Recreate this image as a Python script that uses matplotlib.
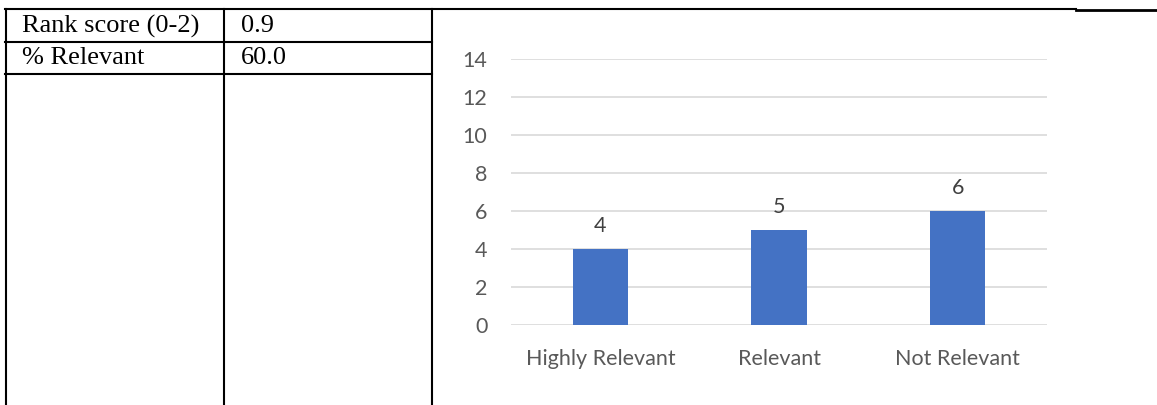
import matplotlib
matplotlib.use("Agg")
import matplotlib.pyplot as plt
from matplotlib.lines import Line2D

# table contents (left part of the picture)
row_labels = ["Rank score (0-2)", "% Relevant"]
row_values = ["0.9", "60.0"]

# chart data
categories = ["Highly Relevant", "Relevant", "Not Relevant"]
counts = [4, 5, 6]
yticks = [0, 2, 4, 6, 8, 10, 12, 14]

W, H = 1157, 405
fig = plt.figure(figsize=(W / 100, H / 100), dpi=100)

def px_line(x0, y0, x1, y1, lw=1.5):
    # figure line given in pixel coords from the top left
    fig.add_artist(Line2D([x0 / W, x1 / W], [1 - y0 / H, 1 - y1 / H],
                          transform=fig.transFigure, color="black", lw=lw))

# table grid
px_line(5, 9, 1076, 9)
px_line(1076, 10, 1157, 10, lw=2)
px_line(5, 42, 432, 42)
px_line(5, 74, 432, 74)
for x in [6, 224, 432]:
    px_line(x, 9, x, H)

serif = {"family": "Liberation Serif", "size": 19}
for i, (lab, val) in enumerate(zip(row_labels, row_values)):
    yc = 1 - (26 + 32 * i) / H
    fig.text(22 / W, yc, lab, va="center", ha="left", **serif)
    fig.text(241 / W, yc, val, va="center", ha="left", **serif)

# bar chart
ax = fig.add_axes([511 / W, 80 / H, 536 / W, 266 / H])
x = range(len(categories))
bars = ax.bar(x, counts, width=0.31, color="#4472C4", zorder=3)
for b, v in zip(bars, counts):
    ax.text(b.get_x() + b.get_width() / 2, v + 0.7, str(v), ha="center",
            va="bottom", color="#404040", fontsize=15.5, family="Lato")

ax.set_xlim(-0.5, len(categories) - 0.5)
ax.set_ylim(0, 14)
ax.set_yticks(yticks)
ax.set_xticks(list(x))
ax.set_xticklabels(categories)
ax.grid(axis="y", color="#D9D9D9", lw=1.2, zorder=0)
for s in ax.spines.values():
    s.set_visible(False)
ax.tick_params(length=0, labelsize=15.5, labelcolor="#595959")
ax.tick_params(axis="y", pad=17)
ax.tick_params(axis="x", pad=17)
for t in ax.get_xticklabels() + ax.get_yticklabels():
    t.set_family("Lato")

fig.savefig("out.png", dpi=100)
